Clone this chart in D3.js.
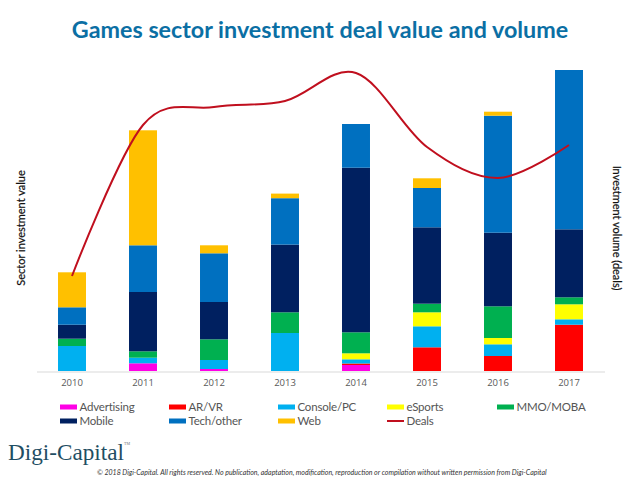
<!DOCTYPE html>
<html>
<head>
<meta charset="utf-8">
<script src="https://d3js.org/d3.v7.min.js"></script>
<style>
  body { margin: 0; background: #fff; }
  svg { display: block; }
</style>
</head>
<body>
<div id="chart"></div>
<script>
const width = 640, height = 480

// DATA (no scale printed on the axes)
const years = ["2010","2011","2012","2013","2014","2015","2016","2017"]
const advertising = [0, 7.7, 2, 0, 6, 0, 0, 0]
const arvr = [0, 0, 0, 0, 1.5, 23.7, 15, 46.3]
const consolePc = [25, 5.6, 9, 38, 4.2, 21, 11.7, 5.4]
const esports = [0, 0, 0, 0, 6, 14, 6.3, 15]
const mmo = [7.3, 6.4, 20.7, 20.7, 21, 8.6, 31.7, 7]
const mobile = [14, 59.3, 37.3, 67.7, 164.6, 76.4, 73.6, 68]
const techOther = [17.4, 46.7, 48.7, 46.4, 43.7, 39.3, 117, 159.3]
const web = [35, 115, 8, 4.6, 0, 9.7, 4, 0]
const deals = [95, 246, 264, 270, 298, 224, 193, 226]

const seriesNames = ["Advertising","AR/VR","Console/PC","eSports","MMO/MOBA","Mobile","Tech/other","Web"]
const seriesValues = [advertising, arvr, consolePc, esports, mmo, mobile, techOther, web]
const seriesColors = ["#ff00e6","#ff0000","#00b0f0","#ffff00","#00b050","#002060","#0070c0","#ffc000"]
const dealsColor = "#c00f1e"

const table = years.map((y, i) => {
  const row = { year: y }
  seriesNames.forEach((s, j) => row[s] = seriesValues[j][i])
  return row
})

const svg = d3.select("#chart").append("svg")
  .attr("width", width)
  .attr("height", height)

// SCALES
const xScale = d3.scaleBand()
  .domain(years)
  .range([36.5, 604.5])
  .paddingInner(0.606)
  .paddingOuter(0.303)

const yScale = d3.scaleLinear()
  .domain([0, 301])
  .range([371, 70])

const stack = d3.stack().keys(seriesNames)(table)

// BARS
svg.selectAll("g.layer")
  .data(stack)
  .join("g")
  .attr("class", "layer")
  .attr("fill", (d, i) => seriesColors[i])
  .selectAll("rect")
  .data(d => d)
  .join("rect")
    .attr("x", d => xScale(d.data.year))
    .attr("y", d => yScale(d[1]))
    .attr("width", xScale.bandwidth())
    .attr("height", d => yScale(d[0]) - yScale(d[1]))

// X AXIS
const xAxis = svg.append("g")
  .attr("transform", "translate(0,371.5)")
  .call(d3.axisBottom(xScale).tickSize(0).tickPadding(8))
xAxis.select(".domain").attr("stroke", "#d9d9d9")
xAxis.selectAll("text")
  .attr("font-family", "'Open Sans', sans-serif")
  .attr("font-size", 9.5)
  .attr("fill", "#595959")

// DEALS LINE
const line = d3.line()
  .x((d, i) => xScale(years[i]) + xScale.bandwidth() / 2)
  .y(d => yScale(d))
  .curve(d3.curveCatmullRom.alpha(0))

svg.append("path")
  .datum(deals)
  .attr("fill", "none")
  .attr("stroke", dealsColor)
  .attr("stroke-width", 2)
  .attr("d", line)

// TITLES
svg.append("text")
  .attr("x", 320).attr("y", 37.5)
  .attr("text-anchor", "middle")
  .attr("font-family", "Lato, sans-serif")
  .attr("font-weight", "bold")
  .attr("font-size", 23.3)
  .attr("fill", "#0b6fa4")
  .text("Games sector investment deal value and volume")

svg.append("text")
  .attr("transform", "translate(25,228) rotate(-90)")
  .attr("text-anchor", "middle")
  .attr("font-family", "Lato, sans-serif")
  .attr("font-size", 11)
  .attr("fill", "#111")
  .attr("stroke", "#111")
  .attr("stroke-width", 0.2)
  .text("Sector investment value")

svg.append("text")
  .attr("transform", "translate(613,228) rotate(90)")
  .attr("text-anchor", "middle")
  .attr("font-family", "Lato, sans-serif")
  .attr("font-size", 11)
  .attr("fill", "#111")
  .attr("stroke", "#111")
  .attr("stroke-width", 0.2)
  .text("Investment volume (deals)")

// LEGEND
const legendNames = seriesNames.concat(["Deals"])
const legendColors = seriesColors.concat([dealsColor])
const legendCols = [60, 169, 278, 387, 497]
const legend = svg.selectAll("g.legend")
  .data(legendNames)
  .join("g")
  .attr("class", "legend")
  .attr("transform", (d, i) => `translate(${legendCols[i % 5]},${i < 5 ? 407 : 421})`)

legend.append("rect")
  .attr("x", 0)
  .attr("y", d => d == "Deals" ? -1 : -2.5)
  .attr("width", 17)
  .attr("height", d => d == "Deals" ? 2 : 5)
  .attr("fill", (d, i) => legendColors[i])

legend.append("text")
  .attr("x", 19.5).attr("y", 4)
  .attr("font-family", "Lato, sans-serif")
  .attr("font-size", 11.5)
  .attr("letter-spacing", -0.2)
  .attr("fill", "#555")
  .text(d => d)

// LOGO + FOOTNOTE
svg.append("text")
  .attr("x", 8).attr("y", 460)
  .attr("font-family", "'Liberation Serif', serif")
  .attr("font-size", 23.2)
  .attr("fill", "#1f4e63")
  .text("Digi-Capital")

svg.append("text")
  .attr("x", 124).attr("y", 445)
  .attr("font-family", "'Liberation Serif', serif")
  .attr("font-size", 4)
  .attr("fill", "#777")
  .text("TM")

svg.append("text")
  .attr("x", 97).attr("y", 474.5)
  .attr("font-family", "Lato, sans-serif")
  .attr("font-style", "italic")
  .attr("font-size", 7)
  .attr("fill", "#333")
  .text("© 2018 Digi-Capital. All rights reserved. No publication, adaptation, modification, reproduction or compilation without written permission from Digi-Capital")
</script>
</body>
</html>
